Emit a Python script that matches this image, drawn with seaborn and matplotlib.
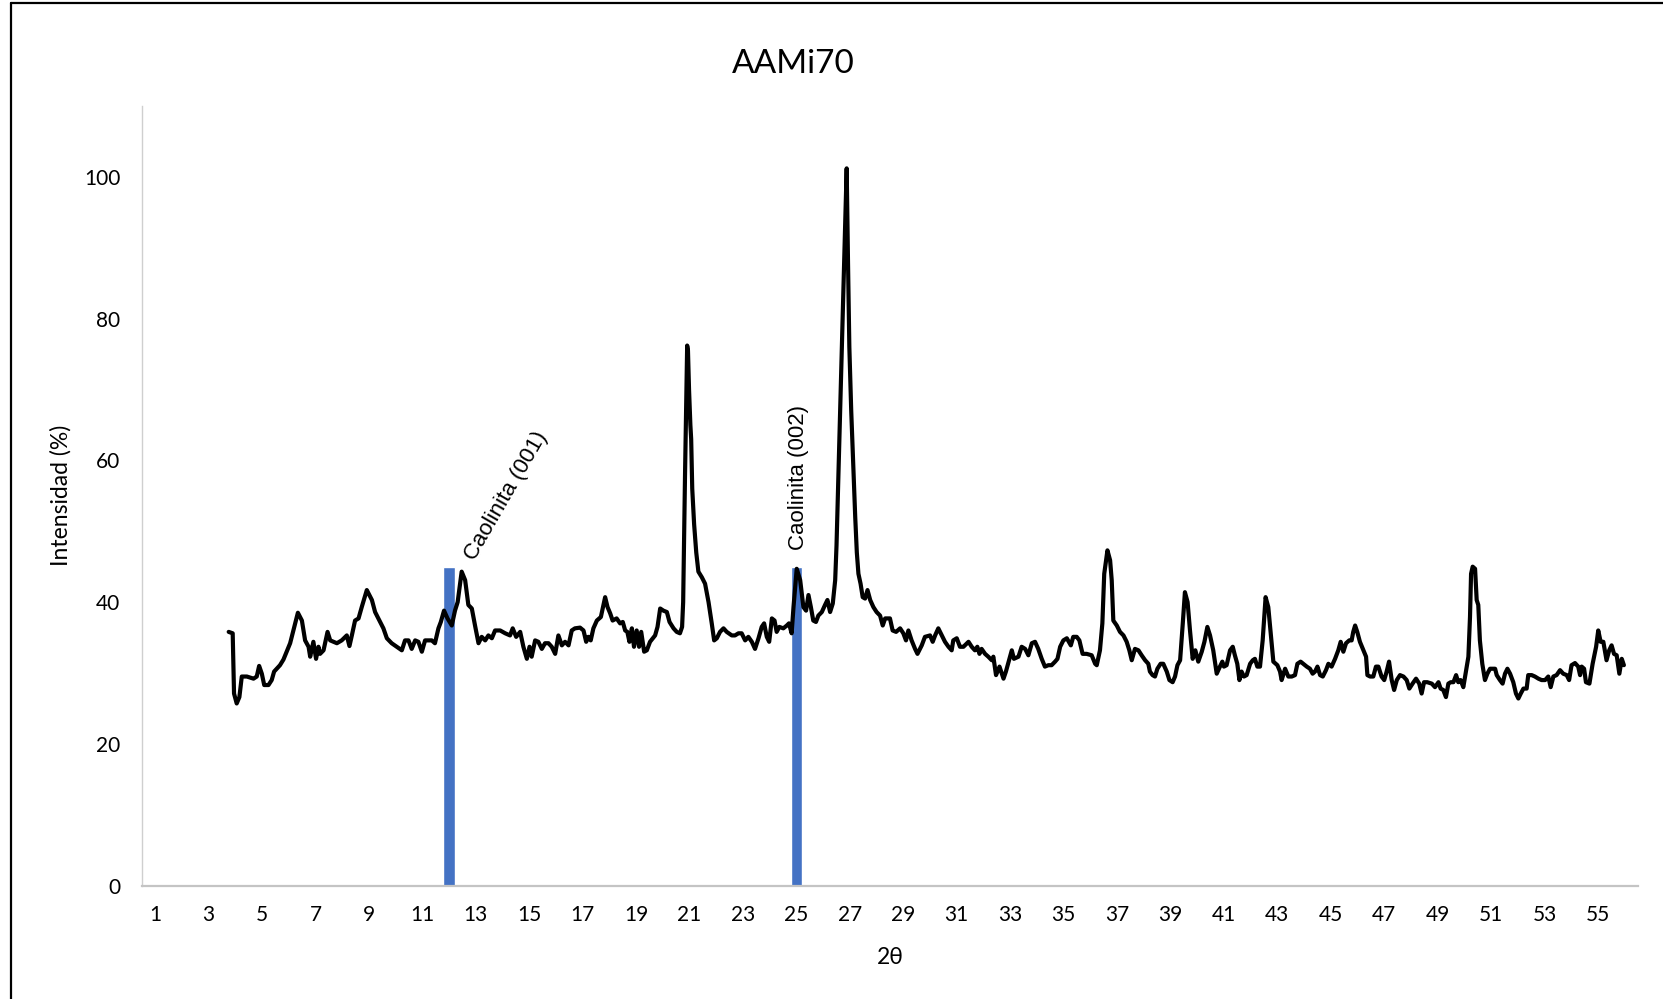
import matplotlib
matplotlib.use("Agg")
import matplotlib.pyplot as plt
from matplotlib.lines import Line2D
import seaborn as sns

# ---- diffractogram: 2-theta (deg) and relative intensity (%) ----
two_theta_a = [3.75, 3.90, 3.95, 4.05, 4.15, 4.24, 4.43, 4.68, 4.80, 4.89,
               4.99, 5.08, 5.24, 5.36, 5.45, 5.67, 5.80, 5.92, 6.05, 6.17,
               6.34, 6.49, 6.61, 6.74, 6.80, 6.92, 7.02, 7.11, 7.17, 7.30,
               7.45, 7.55, 7.80, 7.98, 8.17, 8.27, 8.36, 8.48, 8.61, 8.73,
               8.92, 9.11, 9.23, 9.35, 9.54, 9.67, 9.85, 10.04, 10.23, 10.35,
               10.48, 10.60, 10.73, 10.85, 10.98, 11.10, 11.23, 11.35, 11.47, 11.60,
               11.69, 11.81, 11.94, 12.10, 12.22, 12.32, 12.47, 12.60, 12.72, 12.85,
               12.97, 13.10, 13.22, 13.35, 13.47, 13.60, 13.72, 13.91, 14.10, 14.28,
               14.38, 14.51, 14.66, 14.78, 14.91, 15.01, 15.09, 15.22, 15.34, 15.47,
               15.59, 15.72, 15.84, 15.97, 16.09, 16.22, 16.34, 16.47, 16.59, 16.71]
intensity_a = [35.8, 35.6, 27.1, 25.7, 26.6, 29.5, 29.5, 29.2, 29.5, 31.0,
               29.9, 28.3, 28.3, 29.0, 30.2, 31.1, 31.9, 33.0, 34.2, 36.0,
               38.5, 37.4, 34.6, 33.7, 32.3, 34.4, 32.0, 33.7, 32.7, 33.2,
               35.8, 34.6, 34.2, 34.6, 35.3, 33.8, 35.3, 37.4, 37.7, 39.3,
               41.7, 40.3, 38.6, 37.7, 36.3, 34.9, 34.2, 33.7, 33.2, 34.6,
               34.6, 33.4, 34.6, 34.4, 33.0, 34.6, 34.6, 34.6, 34.2, 36.3,
               37.2, 38.8, 37.7, 36.7, 38.8, 40.0, 44.3, 43.1, 39.6, 39.1,
               36.7, 34.2, 35.1, 34.6, 35.3, 34.9, 36.0, 36.0, 35.6, 35.3,
               36.3, 35.1, 35.8, 33.7, 32.0, 33.7, 32.3, 34.6, 34.4, 33.4,
               34.2, 34.2, 33.7, 32.7, 35.3, 33.9, 34.4, 33.9, 36.0, 36.3]

two_theta_b = [16.90, 17.03, 17.13, 17.21, 17.30, 17.40, 17.53, 17.68, 17.75, 17.84,
               17.93, 18.03, 18.12, 18.27, 18.40, 18.50, 18.59, 18.67, 18.75, 18.84,
               18.92, 19.02, 19.11, 19.19, 19.30, 19.40, 19.52, 19.71, 19.80, 19.90,
               20.02, 20.15, 20.25, 20.40, 20.52, 20.64, 20.72, 20.76, 20.83, 20.91,
               20.94, 20.98, 21.03, 21.06, 21.10, 21.17, 21.25, 21.33, 21.46, 21.58,
               21.71, 21.83, 21.92, 22.02, 22.14, 22.27, 22.39, 22.58, 22.70, 22.83,
               22.95, 23.08, 23.20, 23.33, 23.45, 23.58, 23.70, 23.79, 23.89, 23.98,
               24.08, 24.18, 24.26, 24.36, 24.51, 24.64, 24.72, 24.82, 24.89, 25.01,
               25.14, 25.26, 25.36, 25.45, 25.54, 25.63, 25.73, 25.82, 25.95, 26.07,
               26.16, 26.26, 26.36, 26.45, 26.50, 26.88, 26.93, 26.98, 27.05, 27.13,
               27.20, 27.26, 27.32, 27.40, 27.48, 27.57, 27.66, 27.76, 27.88, 28.00,
               28.13, 28.23, 28.32, 28.50, 28.60, 28.73, 28.88, 29.00, 29.10, 29.19,
               29.31, 29.44, 29.53, 29.69, 29.81, 30.00]
intensity_b = [36.4, 36.0, 34.4, 35.1, 34.6, 36.3, 37.4, 37.9, 39.1, 40.7,
               39.3, 38.4, 37.4, 37.7, 37.0, 37.2, 36.0, 35.8, 34.4, 36.3,
               33.7, 36.0, 33.7, 35.8, 33.0, 33.2, 34.4, 35.3, 36.5, 39.1,
               38.8, 38.6, 37.2, 36.3, 35.8, 35.6, 36.5, 40.0, 58.0, 76.2,
               75.5, 70.0, 65.0, 63.0, 56.0, 51.0, 47.0, 44.3, 43.5, 42.6,
               40.0, 37.0, 34.6, 34.9, 35.8, 36.3, 35.8, 35.3, 35.3, 35.6,
               35.6, 34.6, 35.1, 34.4, 33.4, 34.9, 36.5, 37.0, 35.1, 34.4,
               37.7, 37.4, 35.8, 36.5, 36.3, 36.7, 37.0, 35.6, 39.3, 44.7,
               43.1, 39.3, 38.8, 41.0, 39.3, 37.4, 37.2, 38.1, 38.6, 39.6,
               40.3, 38.6, 39.8, 43.1, 48.0, 101.2, 88.0, 76.0, 67.0, 59.0,
               52.0, 47.0, 44.0, 42.6, 40.7, 40.5, 41.7, 40.3, 39.3, 38.6,
               38.1, 36.7, 37.7, 37.7, 36.0, 35.8, 36.3, 35.6, 34.6, 36.0,
               34.6, 33.4, 32.7, 33.9, 35.1, 35.3]

two_theta_c = [30.10, 30.19, 30.31, 30.44, 30.56, 30.69, 30.81, 30.87, 31.00, 31.12,
               31.25, 31.44, 31.56, 31.68, 31.77, 31.85, 31.93, 32.06, 32.18, 32.31,
               32.37, 32.47, 32.60, 32.75, 32.84, 32.97, 33.06, 33.14, 33.31, 33.43,
               33.56, 33.68, 33.81, 33.93, 34.05, 34.18, 34.30, 34.43, 34.55, 34.68,
               34.77, 34.87, 34.99, 35.12, 35.27, 35.36, 35.49, 35.59, 35.71, 35.86,
               36.05, 36.18, 36.24, 36.36, 36.45, 36.52, 36.64, 36.74, 36.80, 36.86,
               36.99, 37.11, 37.24, 37.36, 37.46, 37.55, 37.67, 37.80, 37.92, 38.05,
               38.17, 38.23, 38.33, 38.42, 38.51, 38.63, 38.73, 38.86, 38.96, 39.08,
               39.17, 39.26, 39.36, 39.46, 39.54, 39.64, 39.73, 39.83, 39.93, 40.04,
               40.17, 40.27, 40.38, 40.48, 40.60, 40.73, 40.85, 40.94, 41.00, 41.10,
               41.23, 41.33, 41.41, 41.50, 41.58, 41.66, 41.75, 41.85, 41.98, 42.08,
               42.16, 42.25, 42.35, 42.45, 42.56, 42.66, 42.75, 42.85, 43.00, 43.10]
intensity_c = [34.4, 35.3, 36.3, 35.3, 34.4, 33.7, 33.2, 34.6, 34.9, 33.7,
               33.7, 34.4, 33.7, 33.2, 33.7, 32.7, 33.4, 32.7, 32.3, 31.8,
               32.3, 29.7, 30.9, 29.2, 30.2, 32.0, 33.2, 32.0, 32.3, 33.7,
               33.4, 32.5, 34.2, 34.4, 33.4, 32.0, 30.9, 31.1, 31.1, 31.6,
               32.0, 33.7, 34.6, 34.9, 33.9, 35.1, 35.1, 34.6, 32.7, 32.7,
               32.5, 31.3, 31.1, 33.2, 37.0, 44.0, 47.3, 45.9, 43.1, 37.4,
               36.7, 35.8, 35.3, 34.4, 33.2, 31.8, 33.4, 33.2, 32.5, 31.8,
               31.3, 30.2, 29.7, 29.5, 30.6, 31.3, 31.3, 30.2, 29.0, 28.7,
               29.5, 31.1, 31.8, 37.0, 41.4, 40.0, 36.0, 32.0, 33.2, 31.6,
               33.0, 34.4, 36.5, 35.3, 33.2, 29.9, 30.9, 31.6, 30.9, 31.1,
               33.2, 33.7, 32.5, 31.3, 29.0, 30.2, 29.5, 29.7, 31.3, 31.8,
               32.0, 30.9, 30.9, 34.6, 40.7, 39.3, 35.6, 31.6, 31.1, 30.2]

two_theta_d = [43.16, 43.29, 43.41, 43.54, 43.66, 43.75, 43.87, 43.97, 44.10, 44.22,
               44.32, 44.41, 44.50, 44.60, 44.70, 44.82, 44.91, 45.03, 45.16, 45.28,
               45.37, 45.47, 45.57, 45.69, 45.78, 45.84, 45.91, 45.99, 46.09, 46.22,
               46.32, 46.37, 46.47, 46.59, 46.69, 46.78, 46.90, 47.00, 47.09, 47.18,
               47.28, 47.37, 47.47, 47.59, 47.72, 47.84, 47.94, 48.06, 48.19, 48.31,
               48.40, 48.49, 48.61, 48.78, 48.90, 49.03, 49.11, 49.21, 49.31, 49.40,
               49.49, 49.59, 49.69, 49.77, 49.86, 49.96, 50.09, 50.15, 50.21, 50.25,
               50.31, 50.40, 50.46, 50.52, 50.58, 50.67, 50.77, 50.86, 50.96, 51.06,
               51.15, 51.21, 51.33, 51.43, 51.52, 51.61, 51.71, 51.83, 51.93, 52.02,
               52.11, 52.21, 52.33, 52.39, 52.52, 52.64, 52.77, 52.89, 53.02, 53.14,
               53.23, 53.33, 53.45, 53.58, 53.70, 53.83, 53.92, 54.01, 54.14, 54.26,
               54.33, 54.39, 54.48, 54.55, 54.68, 54.80, 54.93, 55.01, 55.10, 55.20,
               55.32, 55.42, 55.51, 55.60, 55.70, 55.80, 55.89, 55.97]
intensity_d = [29.0, 30.6, 29.5, 29.5, 29.7, 31.3, 31.6, 31.3, 30.9, 30.6,
               29.9, 30.2, 30.9, 29.7, 29.5, 30.4, 31.3, 30.9, 32.0, 33.2,
               34.4, 33.0, 34.2, 34.6, 34.6, 35.8, 36.7, 35.8, 34.4, 33.2,
               32.3, 29.7, 29.5, 29.5, 30.9, 30.9, 29.5, 29.0, 30.2, 31.6,
               29.0, 27.6, 29.0, 29.7, 29.5, 29.0, 27.8, 28.5, 29.2, 28.5,
               27.1, 28.7, 28.7, 28.5, 28.0, 28.7, 27.8, 27.6, 26.6, 28.5,
               28.7, 28.7, 29.7, 28.7, 29.0, 28.0, 30.9, 32.3, 37.9, 44.0,
               45.0, 44.7, 40.3, 39.6, 34.6, 31.3, 29.0, 29.9, 30.6, 30.6,
               30.6, 29.7, 29.0, 28.5, 29.9, 30.6, 29.9, 28.7, 27.1, 26.4,
               27.1, 27.8, 27.8, 29.7, 29.7, 29.5, 29.2, 29.0, 29.0, 29.5,
               28.0, 29.5, 29.7, 30.4, 29.9, 29.7, 29.0, 31.1, 31.4, 30.9,
               29.7, 30.9, 30.6, 28.7, 28.5, 31.3, 33.7, 36.0, 34.4, 34.4,
               31.8, 33.2, 33.9, 32.7, 32.5, 29.9, 32.0, 31.1]

two_theta = two_theta_a + two_theta_b + two_theta_c + two_theta_d
intensity = intensity_a + intensity_b + intensity_c + intensity_d

# ---- kaolinite reference reflections ----
ref_positions = [12, 25]
ref_heights = [45, 45]
ref_labels = ["Caolinita (001)", "Caolinita (002)"]

x_ticks = list(range(1, 56, 2))
y_ticks = [0, 20, 40, 60, 80, 100]

sns.set_theme(style="white")
plt.rcParams["font.family"] = ["Lato", "DejaVu Sans"]

fig = plt.figure(figsize=(16.63, 9.99), dpi=100)
fig.patch.set_facecolor("white")
ax = fig.add_axes([0.0853, 0.1135, 0.8997, 0.7804])

ax.bar(ref_positions, ref_heights, width=0.42, color="#4472C4", zorder=1)
sns.lineplot(x=two_theta, y=intensity, estimator=None, sort=False,
             color="black", linewidth=3.0, ax=ax, zorder=2)
ax.lines[-1].set_solid_joinstyle("round")
ax.lines[-1].set_solid_capstyle("round")

ax.set_xlim(0.5, 56.5)
ax.set_ylim(0, 110)
ax.set_xticks(x_ticks)
ax.set_yticks(y_ticks)
ax.tick_params(axis="both", length=0, labelsize=15, colors="black")
ax.tick_params(axis="x", pad=14)
ax.tick_params(axis="y", pad=15.5)
ax.grid(False)

for side in ("top", "right"):
    ax.spines[side].set_visible(False)
ax.spines["left"].set_color("#CFCFCF")
ax.spines["left"].set_linewidth(1.0)
ax.spines["bottom"].set_color("#C4C4C4")
ax.spines["bottom"].set_linewidth(1.6)

ax.set_xlabel("2θ", fontsize=16.5, color="black", labelpad=16)
ax.set_ylabel("Intensidad (%)", fontsize=16.5, color="black", labelpad=9)

ax.text(12.95, 45.8, ref_labels[0], rotation=60, rotation_mode="anchor",
        ha="left", va="baseline", fontsize=16, family="Liberation Sans",
        color="black")
ax.text(25.08, 47.4, ref_labels[1], rotation=90, ha="center", va="bottom",
        fontsize=16, family="Liberation Sans", color="black")

fig.text(793 / 1663, 1 - 63.6 / 999, "AAMi70", ha="center", va="center",
         fontsize=24, color="black")

# chart-area frame
fig.add_artist(Line2D([10.6 / 1663, 1.0], [1 - 3 / 999, 1 - 3 / 999],
                      color="black", linewidth=1.6, transform=fig.transFigure))
fig.add_artist(Line2D([10.6 / 1663, 10.6 / 1663], [0.0, 1 - 3 / 999],
                      color="black", linewidth=1.6, transform=fig.transFigure))

fig.savefig("out.png", dpi=100)
